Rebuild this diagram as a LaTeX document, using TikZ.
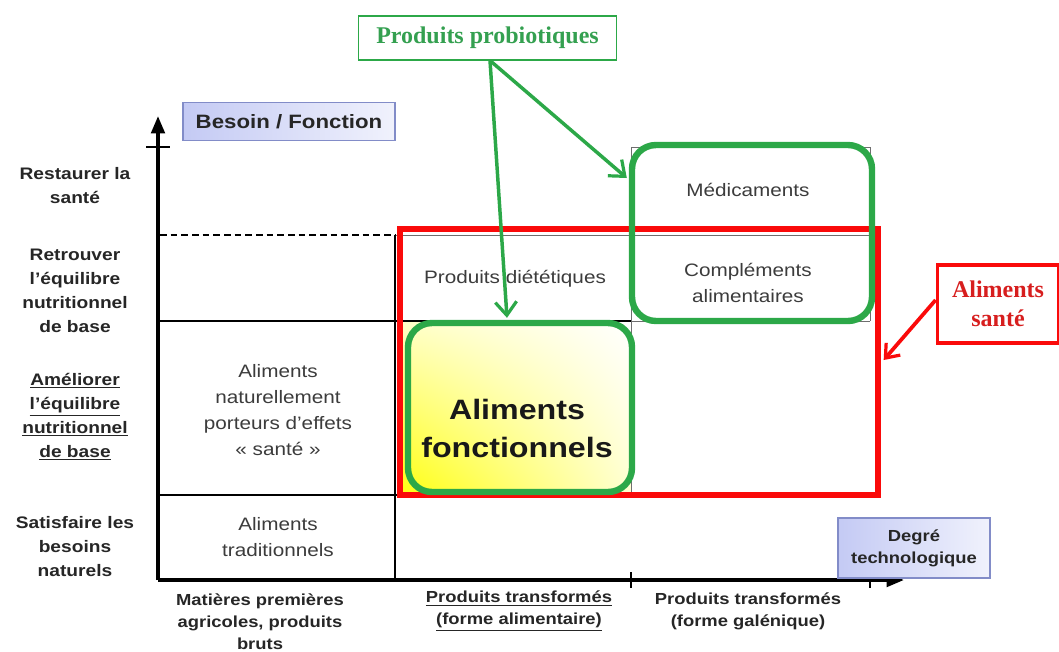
\documentclass[tikz,border=0pt]{standalone}
\usepackage{fontspec}
\setmainfont{Liberation Sans}
\newfontfamily\lab[FakeStretch=1.15]{Liberation Sans}
\newfontfamily\serifb{Liberation Serif}
\usetikzlibrary{arrows.meta,calc,shadings}
\definecolor{gr}{RGB}{44,168,72}
\definecolor{grtext}{RGB}{52,160,80}
\definecolor{rd}{RGB}{250,10,10}
\definecolor{rdtext}{RGB}{215,30,30}
\definecolor{celltext}{RGB}{60,60,60}
\definecolor{lav}{RGB}{196,202,244}
\definecolor{lavb}{RGB}{130,140,200}
\definecolor{gridg}{RGB}{110,110,110}
\tikzset{
  axis/.style={line width=2.8pt,-{Triangle[length=13pt,width=10pt]}},
  thinline/.style={line width=0.8pt,black},
  greyline/.style={line width=0.7pt,gridg},
  rowlab/.style={font=\lab\bfseries\fontsize{12.5}{18}\selectfont,align=center,text=black!85},
  collab/.style={font=\lab\bfseries\fontsize{12}{16.5}\selectfont,align=center,text=black!85},
  cell/.style={font=\lab\fontsize{13.5}{19.5}\selectfont,align=center,text=celltext},
  bluebox/.style={draw=lavb,line width=0.8pt,left color=lav,right color=lav!25!white,inner sep=0pt},
  gbox/.style={draw=gr,line width=4.8pt,rounded corners=18pt,inner sep=0pt},
  garrow/.style={draw=gr,line width=2.6pt,-{Straight Barb[length=10pt,width=16pt,line width=2.4pt]}},
  rarrow/.style={draw=rd,line width=2.8pt,-{Straight Barb[length=9pt,width=14pt,line width=2.4pt]}},
}
\begin{document}
\begin{tikzpicture}[x=0.75pt,y=-0.75pt]
\useasboundingbox (0,0) rectangle (1059,651);
\fill[white] (0,0) rectangle (1059,651);

% yellow cell shading
\shade[lower left=yellow!95!white, upper left=yellow!22!white, lower right=yellow!18!white, upper right=white] (397,321) rectangle (631,495);

% grid lines
\draw[thinline,dashed,dash pattern=on 5pt off 3pt] (160,235) -- (395,235);
\draw[greyline] (395,235) -- (870,235);
\draw[thinline] (158,321) -- (631,321);
\draw[greyline] (631,321) -- (870,321);
\draw[thinline] (158,495) -- (400,495);
\draw[thinline] (395,235) -- (395,580);
\draw[greyline] (631,147) -- (631,495);
\draw[greyline] (631,147) -- (870,147) -- (870,321);

% axes
\coordinate (O) at (158,580);
\coordinate (ytip) at (158,116);
\coordinate (xtip) at (904,580);
\draw[axis] (O) -- (ytip);
\draw[axis] (O) -- (xtip);
\draw[thinline] (146,147) -- (170,147);
\draw[thinline] (631,572) -- (631,588);
\draw[thinline] (870,571) -- (870,588);

% red box
\node[draw=rd,line width=4pt,minimum width=358.5pt,minimum height=199.5pt,inner sep=0pt] (as) at (639,362) {};

% green boxes
\node[gbox,minimum width=168pt,minimum height=126.75pt] (af) at (520,407.5) {};
\node[gbox,minimum width=180pt,minimum height=132pt] (mc) at (752,233) {};

% cell texts
\node[cell] (anat) at (278,410) {Aliments\\naturellement\\porteurs d’effets\\« santé »};
\node[cell] (atrad) at (278,537) {Aliments\\traditionnels};
\node[cell] (pdiet) at (515,279) {Produits diététiques};
\node[cell] (med) at (748,190) {Médicaments};
\node[cell] (comp) at (748,283) {Compléments\\alimentaires};
\node[font=\lab\bfseries\fontsize{21}{28.5}\selectfont,align=center,text=black!90] (aft) at (517,428) {Aliments\\fonctionnels};

% row labels
\node[rowlab] (r1) at (75,186) {Restaurer la\\santé};
\node[rowlab] (r2) at (75,291) {Retrouver\\l’équilibre\\nutritionnel\\de base};
\node[rowlab] (r3) at (75,417) {\underline{Améliorer}\\\underline{l’équilibre}\\\underline{nutritionnel}\\\underline{de base}};
\node[rowlab] (r4) at (75,547) {Satisfaire les\\besoins\\naturels};

% column labels
\node[collab] (c1) at (260,622) {Matières premières\\agricoles, produits\\bruts};
\node[collab] (c2) at (519,611) {\underline{Produits transformés}\\\underline{(forme alimentaire)}};
\node[collab] (c3) at (748,611) {Produits transformés\\(forme galénique)};

% axis titles
\node[bluebox,minimum width=159pt,minimum height=28pt,font=\lab\bfseries\fontsize{14.5}{17}\selectfont,text=black!85] (bf) at (289,121.5) {Besoin / Fonction};
\node[bluebox,minimum width=114pt,minimum height=45pt,align=center,font=\lab\bfseries\fontsize{12}{16.5}\selectfont,text=black!85] (dt) at (914,548) {Degré\\technologique};

% callout boxes
\node[draw=gr,line width=0.8pt,minimum width=194pt,minimum height=33pt,inner sep=0pt,font=\serifb\bfseries\fontsize{18}{22}\selectfont,text=grtext] (pp) at (487.5,38) {Produits probiotiques};
\node[draw=rd,line width=2.6pt,minimum width=91pt,minimum height=58.5pt,inner sep=0pt,align=center,font=\serifb\bfseries\fontsize{18}{22}\selectfont,text=rdtext] (ast) at (998,304) {Aliments\\santé};

% connectors
\coordinate (pps) at ($(pp.south)+(2.5,0)$);
\coordinate (afin) at ($(af.north)+(-13,-2)$);
\coordinate (mcin) at ($(mc.west)+(-2,-55)$);
\coordinate (asin) at ($(as.east)+(3,-2)$);
\draw[garrow] (pps) -- (afin);
\draw[garrow] (pps) -- (mcin);
\draw[rarrow] ($(ast.west)+(0,-4)$) -- (asin);
\end{tikzpicture}
\end{document}
